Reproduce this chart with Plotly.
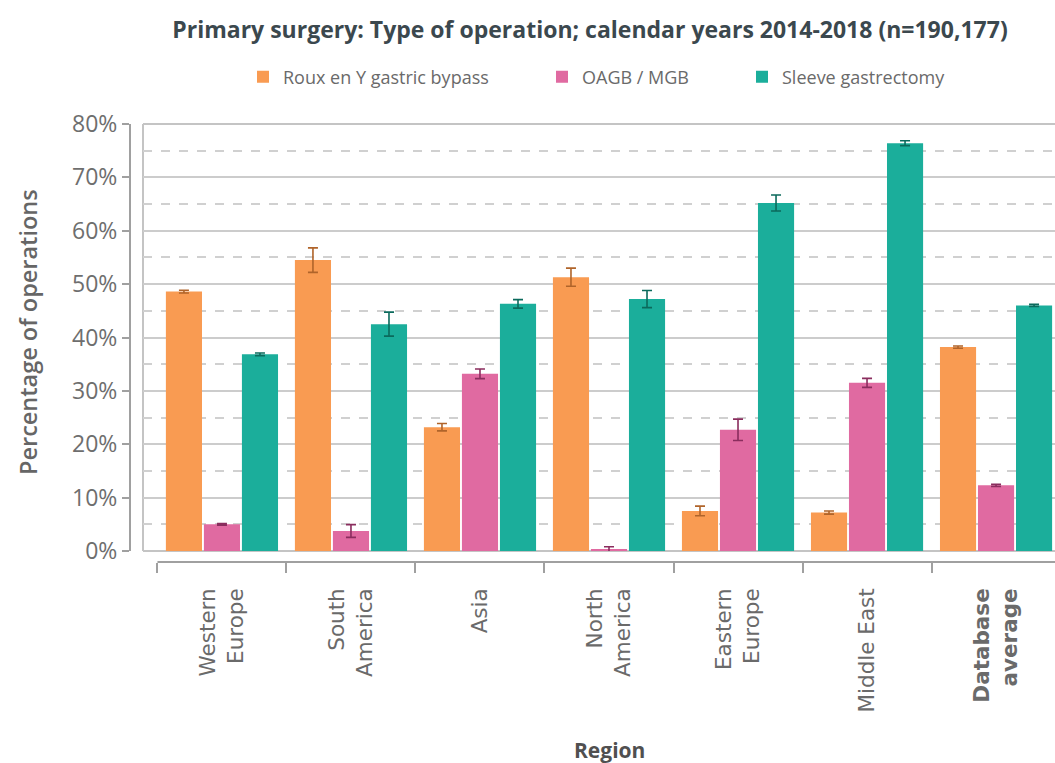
import plotly.graph_objects as go

# Regions (category labels along the x axis)
regions = ["Western<br>Europe", "South<br>America", "Asia", "North<br>America",
           "Eastern<br>Europe", "Middle East", "<b>Database</b><br><b>average</b>"]

# Percentage of operations per procedure, with error bar half-widths
rygb = [48.6, 54.5, 23.2, 51.3, 7.5, 7.2, 38.2]
rygb_err = [0.25, 2.3, 0.7, 1.7, 0.9, 0.3, 0.2]
oagb = [5.0, 3.75, 33.2, 0.3, 22.7, 31.5, 12.3]
oagb_err = [0.15, 1.2, 0.9, 0.5, 2.0, 0.85, 0.2]
sleeve = [36.85, 42.5, 46.3, 47.2, 65.2, 76.4, 46.0]
sleeve_err = [0.25, 2.25, 0.8, 1.6, 1.5, 0.45, 0.2]

y_ticks = [0, 10, 20, 30, 40, 50, 60, 70, 80]
y_ticktext = ["0%", "10%", "20%", "30%", "40%", "50%", "60%", "70%", "80%"]
y_minor = [5, 15, 25, 35, 45, 55, 65, 75]

W, H = 1055, 763
series = [
    ("Roux en Y gastric bypass", rygb, rygb_err, "#f99b52", "#b0642a", "legend"),
    ("OAGB / MGB", oagb, oagb_err, "#e06aa1", "#8a2d5e", "legend2"),
    ("Sleeve gastrectomy", sleeve, sleeve_err, "#1bae9b", "#0b6a5c", "legend3"),
]

fig = go.Figure()
for name, vals, errs, col, ecol, leg in series:
    fig.add_trace(go.Bar(
        x=regions, y=vals, name=name, legend=leg,
        marker=dict(color=col, line=dict(width=0)),
        error_y=dict(type="data", array=errs, color=ecol, thickness=1.6, width=5),
    ))

x_range = [-0.612, 6.457]
x_axis_pos = (H - 562) / H
y_dom = [(H - 551) / H, (H - 124) / H]
grey = "#a0a0a0"
border = "#c4c4c4"

fig.update_layout(
    width=W, height=H,
    margin=dict(l=0, r=0, t=0, b=0, autoexpand=False),
    paper_bgcolor="white", plot_bgcolor="white",
    barmode="group", bargap=0.116, bargroupgap=0.05,
    title=dict(
        text="Primary surgery: Type of operation; calendar years 2014-2018 (n=190,177)",
        x=590 / W, y=1 - 30 / H, xanchor="center", yanchor="middle",
        font=dict(family="Open Sans", size=23, color="#3b484e", weight=700),
    ),
    xaxis=dict(
        domain=[143 / W, 1.0], anchor="free", position=x_axis_pos,
        type="category", range=x_range, tickson="boundaries", automargin=False,
        ticks="outside", ticklen=10, tickwidth=2, tickcolor=grey,
        showline=False, showgrid=False, zeroline=False,
        tickangle=-90, ticklabelstandoff=21,
        tickfont=dict(family="DejaVu Sans", size=21.5, color="#6a6a6a"),
    ),
    yaxis=dict(
        domain=y_dom, anchor="free", position=130 / W, automargin=False,
        range=[0, 80], tickmode="array", tickvals=y_ticks, ticktext=y_ticktext,
        ticks="outside", ticklen=7, tickwidth=2, tickcolor=grey,
        showline=True, linecolor=grey, linewidth=2,
        showgrid=True, gridcolor="#cccccc", gridwidth=2, zeroline=False,
        minor=dict(tickmode="array", tickvals=y_minor, showgrid=True,
                   griddash="dash", gridcolor="#d0d0d0", gridwidth=1.5, ticks=""),
        tickfont=dict(family="Open Sans", size=23, color="#6e6e6e"),
    ),
    showlegend=True,
)

legend_style = dict(orientation="h", yanchor="middle", y=1 - 77 / H, xanchor="left",
                    bgcolor="rgba(0,0,0,0)",
                    font=dict(family="Open Sans", size=18, color="#6a6a6a"))
fig.update_layout(
    legend=dict(x=(258 - 15) / W, **legend_style),
    legend2=dict(x=(557 - 15) / W, **legend_style),
    legend3=dict(x=(757 - 15) / W, **legend_style),
)

# Plot-area frame (left, top and bottom edges)
for x0, x1, y0, y1 in [(0, 0, 0, 1), (0, 1, 1, 1), (0, 1, 0, 0)]:
    fig.add_shape(type="line", xref="x domain", yref="y domain",
                  x0=x0, x1=x1, y0=y0, y1=y1,
                  line=dict(color=border, width=2), layer="below")

# Detached category axis line
fig.add_shape(type="line", xref="x", yref="paper", x0=-0.5, x1=x_range[1],
              y0=x_axis_pos, y1=x_axis_pos, line=dict(color=grey, width=2))

# Axis titles
fig.add_annotation(text="Percentage of operations", xref="paper", yref="paper",
                   x=28 / W, y=(H - 332) / H, textangle=-90, showarrow=False,
                   xanchor="center", yanchor="middle",
                   font=dict(family="Open Sans", size=23.5, color="#666666", weight=600))
fig.add_annotation(text="Region", xref="paper", yref="paper",
                   x=609 / W, y=(H - 750) / H, showarrow=False,
                   xanchor="center", yanchor="middle",
                   font=dict(family="Open Sans", size=21, color="#505050", weight=700))

fig.write_html("out.html")
